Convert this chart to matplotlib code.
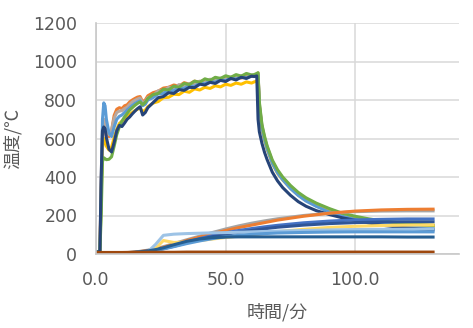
import matplotlib
matplotlib.use("Agg")
import matplotlib.pyplot as plt

# ---------------- data ----------------
t_hot = [0, 1.5, 2, 2.5, 3, 3.5, 4,
         5, 6, 7, 8, 9, 10,
         11, 12, 13, 14, 15, 16, 17, 18, 19, 20,
         22, 24, 26, 28, 30, 32, 34, 36, 38, 40,
         42, 44, 46, 48, 50, 52, 54, 56, 58, 60,
         61, 62, 62.5, 63, 64, 65, 66,
         68, 70, 72, 75, 78, 81, 85,
         90, 95, 100, 105, 110, 115, 120, 125, 130]

hot_orange = [10, 12, 350, 600, 650, 665, 650,
              610, 640, 720, 752, 760, 755,
              770, 775, 790, 800, 808, 815, 818, 790, 800, 822,
              838, 846, 862, 866, 878, 872, 890, 882, 898, 892,
              906, 896, 914, 906, 918, 910, 926, 914, 930, 922,
              924, 935, 940, 770, 660, 600, 552,
              478, 428, 392, 348, 312, 284, 256,
              228, 205, 190, 178, 168, 160, 155, 150, 147]

hot_grey = [10, 12, 400, 650, 700, 680, 640,
            620, 645, 705, 735, 742, 745,
            755, 762, 778, 790, 798, 805, 810, 785, 792, 812,
            822, 848, 846, 866, 860, 880, 874, 886, 884, 898,
            894, 908, 900, 914, 908, 920, 914, 926, 918, 930,
            928, 932, 936, 780, 668, 605, 558,
            482, 432, 396, 352, 316, 288, 260,
            232, 208, 192, 180, 170, 162, 156, 151, 148]

hot_yellow = [10, 12, 300, 550, 600, 590, 560,
              540, 555, 605, 648, 678, 690,
              700, 712, 725, 735, 745, 752, 758, 740, 748, 765,
              784, 792, 812, 814, 830, 828, 846, 840, 858, 852,
              866, 860, 874, 868, 882, 876, 888, 882, 894, 888,
              894, 898, 905, 760, 650, 592, 545,
              470, 420, 385, 342, 306, 278, 250,
              222, 200, 185, 172, 163, 156, 150, 146, 143]

hot_lightblue = [10, 12, 300, 700, 785, 770, 700,
                 630, 610, 660, 700, 715, 722,
                 735, 748, 760, 772, 782, 790, 796, 770, 778, 800,
                 812, 832, 834, 852, 848, 864, 860, 876, 870, 888,
                 884, 898, 892, 908, 900, 916, 908, 922, 914, 926,
                 924, 928, 930, 765, 655, 596, 548,
                 472, 422, 386, 340, 304, 275, 247,
                 218, 196, 180, 168, 158, 150, 143, 137, 132]

hot_green = [10, 12, 200, 480, 500, 495, 490,
             492, 505, 560, 620, 660, 690,
             712, 730, 748, 760, 772, 782, 790, 775, 788, 808,
             828, 834, 856, 852, 872, 866, 886, 880, 898, 892,
             910, 902, 918, 912, 926, 918, 932, 924, 938, 930,
             932, 938, 942, 790, 672, 612, 562,
             488, 438, 400, 356, 320, 292, 264,
             236, 212, 196, 183, 173, 165, 158, 153, 149]

hot_navy = [10, 12, 400, 640, 660, 650, 605,
            545, 530, 580, 640, 668, 662,
            680, 700, 712, 728, 742, 755, 765, 722, 735, 760,
            786, 812, 818, 838, 834, 854, 850, 866, 864, 882,
            878, 892, 886, 902, 896, 912, 904, 918, 912, 924,
            922, 925, 700, 635, 575, 528, 490,
            425, 380, 345, 305, 272, 248, 225,
            205, 188, 175, 162, 150, 142, 135, 130, 126]

t_low = [0, 5, 10, 15, 20, 23, 26, 30, 35, 40, 45, 50, 55, 60, 65, 70,
         80, 90, 100, 110, 120, 130]

low_orange = [5, 5, 6, 9, 18, 25, 35, 50, 70, 88, 106, 122, 137, 150, 163, 176,
              196, 212, 223, 229, 232, 233]
low_grey = [5, 5, 6, 10, 20, 28, 38, 54, 74, 93, 112, 130, 146, 160, 172, 183,
            200, 212, 220, 223, 224, 224]
low_blue = [5, 5, 6, 8, 15, 22, 30, 44, 62, 80, 96, 110, 122, 132, 141, 149,
            162, 171, 177, 180, 182, 182]
low_darkblue = [5, 5, 6, 8, 14, 20, 28, 40, 58, 75, 90, 102, 113, 122, 131, 139,
                150, 158, 163, 166, 167, 167]
low_midblue = [5, 5, 6, 8, 13, 19, 26, 38, 54, 68, 80, 90, 97, 102, 106, 109,
               112, 114, 115, 115, 115, 115]
low_lightblue = [5, 5, 6, 8, 12, 50, 97, 103, 106, 108, 110, 111, 113, 115, 117, 119,
                 122, 125, 127, 128, 129, 130]
low_yellow = [5, 5, 6, 8, 12, 30, 70, 60, 62, 70, 78, 86, 93, 100, 108, 116,
              128, 138, 144, 148, 150, 151]
low_steel = [5, 5, 6, 9, 16, 23, 32, 48, 66, 78, 85, 88, 89, 89, 89, 89,
             89, 89, 89, 89, 88, 88]
low_brown = [8, 8, 8, 9, 9, 9, 9, 9, 10, 10, 10, 10, 10, 10, 10, 10,
             10, 10, 10, 10, 10, 10]

x_ticks = [0, 50, 100]
x_ticklabels = ["0.0", "50.0", "100.0"]
y_ticks = [0, 200, 400, 600, 800, 1000, 1200]

# ---------------- figure ----------------
W, H = 473, 328
fig = plt.figure(figsize=(W / 100, H / 100), dpi=100)
ax = fig.add_axes([96 / W, 1 - 254 / H, (459 - 96) / W, (254 - 23) / H])

lw = 2.2
hot = [
    (hot_orange, "#ED7D31"),
    (hot_grey, "#B7A8A0"),
    (hot_yellow, "#FFC000"),
    (hot_lightblue, "#5B9BD5"),
    (hot_green, "#70AD47"),
    (hot_navy, "#264478"),
]
for ys, c in hot:
    ax.plot(t_hot, ys, color=c, lw=lw, solid_joinstyle="round")

low = [
    (low_grey, "#A5A5A5"),
    (low_orange, "#ED7D31"),
    (low_blue, "#4472C4"),
    (low_darkblue, "#2F5597"),
    (low_yellow, "#FFD966"),
    (low_lightblue, "#9DC3E6"),
    (low_midblue, "#5B9BD5"),
    (low_steel, "#255E91"),
    (low_brown, "#9E480E"),
]
for ys, c in low:
    ax.plot(t_low, ys, color=c, lw=lw, solid_joinstyle="round")

ax.set_xlim(0, 140)
ax.set_ylim(0, 1200)
ax.set_xticks(x_ticks)
ax.set_xticklabels(x_ticklabels)
ax.set_yticks(y_ticks)
ax.grid(True, color="#D9D9D9", lw=1.1)
ax.set_axisbelow(True)
for s in ["top", "right"]:
    ax.spines[s].set_visible(False)
for s in ["left", "bottom"]:
    ax.spines[s].set_color("#C8C8C8")
    ax.spines[s].set_linewidth(1.2)
ax.tick_params(length=0, labelsize=12.5, colors="#595959")
ax.tick_params(axis="x", pad=12.5)
ax.tick_params(axis="y", pad=13.5)
for lab in ax.get_xticklabels() + ax.get_yticklabels():
    lab.set_fontfamily("DejaVu Sans")

fig.text(13 / W, 1 - 138 / H, "温度/℃", rotation=90, ha="center", va="center",
         fontsize=13, color="#595959", family=["Noto Sans CJK JP", "DejaVu Sans"])
fig.text(277 / W, 1 - 312 / H, "時間/分", ha="center", va="center",
         fontsize=13, color="#595959", family=["Noto Sans CJK JP", "DejaVu Sans"])

fig.savefig("out.png", dpi=100)
